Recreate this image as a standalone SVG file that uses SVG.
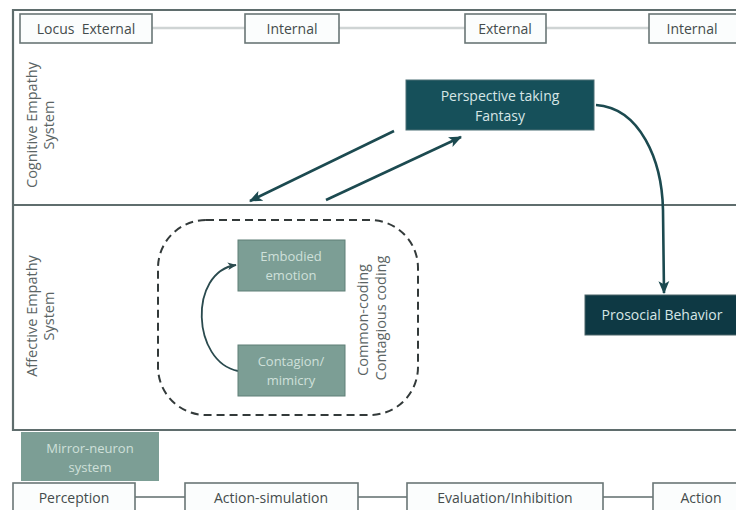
<svg xmlns="http://www.w3.org/2000/svg" width="736" height="510" viewBox="0 0 736 510">
<defs>
<style>
text{font-family:"Open Sans","Liberation Sans",sans-serif;}
.frame{fill:none;stroke:#5f6d6d;stroke-width:2.2;}
.lbox{fill:#fbfdfd;stroke:#6a7676;stroke-width:1.6;}
.ltxt{font-size:14px;fill:#444c4c;text-anchor:middle;}
.sage{fill:#7c9e95;stroke:#5f7f77;stroke-width:1;}
.stxt{font-size:13px;fill:#cfe0da;text-anchor:middle;}
.dtxt{font-size:14px;fill:#d6e6e6;text-anchor:middle;}
.vtxt{font-size:14.5px;fill:#5a6464;text-anchor:middle;}
.arr{fill:none;stroke:#1c4a50;stroke-width:2.6;}
.thin{fill:none;stroke:#2a4a4e;stroke-width:1.8;}
.gline{stroke:#cfd4d4;stroke-width:2.5;}
.bline{stroke:#5f6d6d;stroke-width:1.6;}
</style>
<marker id="ah" viewBox="0 0 12 10" refX="11" refY="5" markerWidth="5" markerHeight="5" markerUnits="strokeWidth" orient="auto">
<path d="M0,0 L12,5 L0,10 L3,5 z" fill="#1c4a50"/>
</marker>
<marker id="ah2" viewBox="0 0 12 10" refX="11" refY="5" markerWidth="5" markerHeight="5" markerUnits="strokeWidth" orient="auto">
<path d="M0,0 L12,5 L0,10 L3,5 z" fill="#2a4a4e"/>
</marker>
</defs>
<rect width="736" height="510" fill="#ffffff"/>

<g id="frames">
<path class="frame" d="M740,10 L13,10 L13,430 L740,430"/>
<line class="frame" x1="13" y1="205" x2="740" y2="205"/>
</g>

<g id="connectors">
<line class="gline" x1="152" y1="28" x2="245" y2="28"/>
<line class="gline" x1="339" y1="28" x2="465" y2="28"/>
<line class="gline" x1="546" y1="28" x2="649" y2="28"/>
<line class="bline" x1="135" y1="497" x2="185" y2="497"/>
<line class="bline" x1="358" y1="497" x2="407" y2="497"/>
<line class="bline" x1="603" y1="497" x2="653" y2="497"/>
<line class="arr" x1="394" y1="131" x2="250" y2="201" marker-end="url(#ah)"/>
<line class="arr" x1="326" y1="200" x2="461" y2="137" marker-end="url(#ah)"/>
<path class="arr" d="M596,105 C640,108 662,160 663,210 L664,293" marker-end="url(#ah)"/>
<path class="thin" d="M238,371 C192,362 188,272 236,265" marker-end="url(#ah2)"/>
</g>

<g id="locus-external">
<rect class="lbox" x="20" y="14" width="132" height="29"/>
<text class="ltxt" x="86" y="34" xml:space="preserve">Locus  External</text>
</g>
<g id="locus-internal-1">
<rect class="lbox" x="245" y="14" width="94" height="29"/>
<text class="ltxt" x="292" y="34">Internal</text>
</g>
<g id="locus-external-2">
<rect class="lbox" x="465" y="14" width="81" height="29"/>
<text class="ltxt" x="505" y="34">External</text>
</g>
<g id="locus-internal-2">
<rect class="lbox" x="649" y="14" width="95" height="29"/>
<text class="ltxt" x="692" y="34">Internal</text>
</g>

<g id="cognitive-label">
<text class="vtxt" transform="translate(37,125) rotate(-90)">Cognitive Empathy</text>
<text class="vtxt" transform="translate(54,125) rotate(-90)">System</text>
</g>

<g id="affective-label">
<text class="vtxt" transform="translate(37,316) rotate(-90)">Affective Empathy</text>
<text class="vtxt" transform="translate(54,316) rotate(-90)">System</text>
</g>

<g id="perspective">
<rect x="406" y="80" width="188" height="50" fill="#16505a" stroke="#4a6e74" stroke-width="1"/>
<text class="dtxt" x="500" y="101">Perspective taking</text>
<text class="dtxt" x="500" y="121">Fantasy</text>
</g>

<g id="prosocial">
<rect x="585" y="295" width="160" height="40" fill="#0e3944" stroke="#4a6468" stroke-width="1"/>
<text class="dtxt" x="662" y="320">Prosocial Behavior</text>
</g>

<g id="common-coding">
<rect x="158" y="220" width="260" height="195" rx="48" ry="48" fill="none" stroke="#333a3a" stroke-width="2" stroke-dasharray="8,5"/>
<text class="vtxt" transform="translate(368,320) rotate(-90)">Common-coding</text>
<text class="vtxt" transform="translate(386,318) rotate(-90)">Contagious coding</text>
</g>

<g id="embodied">
<rect class="sage" x="238" y="240" width="107" height="51"/>
<text class="stxt" x="291" y="261">Embodied</text>
<text class="stxt" x="291" y="280">emotion</text>
</g>

<g id="contagion">
<rect class="sage" x="238" y="345" width="107" height="51"/>
<text class="stxt" x="291" y="366">Contagion/</text>
<text class="stxt" x="291" y="385">mimicry</text>
</g>

<g id="mirror-neuron">
<rect x="21" y="432" width="138" height="49" fill="#7c9e95"/>
<text class="stxt" x="90" y="453">Mirror-neuron</text>
<text class="stxt" x="90" y="472">system</text>
</g>

<g id="perception">
<rect class="lbox" x="13" y="483" width="122" height="32"/>
<text class="ltxt" x="74" y="503">Perception</text>
</g>
<g id="action-simulation">
<rect class="lbox" x="185" y="483" width="173" height="32"/>
<text class="ltxt" x="271" y="503">Action-simulation</text>
</g>
<g id="evaluation">
<rect class="lbox" x="407" y="483" width="196" height="32"/>
<text class="ltxt" x="505" y="503">Evaluation/Inhibition</text>
</g>
<g id="action">
<rect class="lbox" x="653" y="483" width="95" height="32"/>
<text class="ltxt" x="701" y="503">Action</text>
</g>
</svg>
